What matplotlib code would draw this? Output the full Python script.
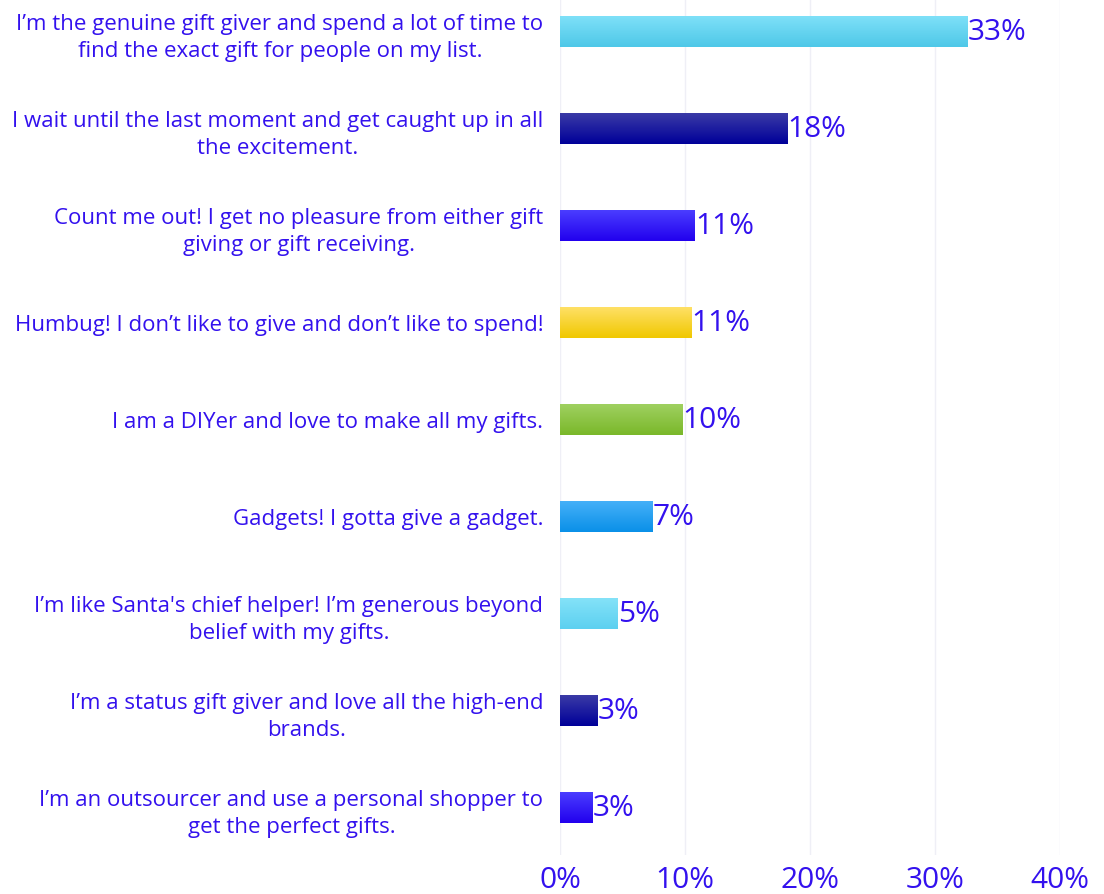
import numpy as np
import matplotlib.pyplot as plt
from matplotlib.colors import LinearSegmentedColormap

plt.rcParams['font.family'] = ['Open Sans', 'DejaVu Sans']

labels = [
    "I’m the genuine gift giver and spend a lot of time to\nfind the exact gift for people on my list.",
    "I wait until the last moment and get caught up in all\nthe excitement.",
    "Count me out! I get no pleasure from either gift\ngiving or gift receiving.",
    "Humbug! I don’t like to give and don’t like to spend!",
    "I am a DIYer and love to make all my gifts.",
    "Gadgets! I gotta give a gadget.",
    "I’m like Santa's chief helper! I’m generous beyond\nbelief with my gifts.",
    "I’m a status gift giver and love all the high-end\nbrands.",
    "I’m an outsourcer and use a personal shopper to\nget the perfect gifts.",
]
values = [32.6, 18.2, 10.8, 10.5, 9.8, 7.4, 4.6, 3.0, 2.6]
value_text = ["33%", "18%", "11%", "11%", "10%", "7%", "5%", "3%", "3%"]
# top colour, bottom colour of each bar gradient
bar_top = ["#7ee0f8", "#3a3aa6", "#4a3dff", "#ffe066", "#9fd060", "#45b0f8", "#84e2f8", "#3a3aa6", "#4a3dff"]
bar_bot = ["#4ec8e8", "#000099", "#2200ee", "#f0c800", "#7ab82a", "#0a90e8", "#5cd0f0", "#000099", "#2200ee"]
xticks = [0, 10, 20, 30, 40]

text_color = "#3311ee"

fig = plt.figure(figsize=(11.04, 8.94), dpi=100)
ax = fig.add_axes([560 / 1104, 39 / 894, 500 / 1104, 855 / 894])

y = np.arange(len(values))
h = 0.31
bars = ax.barh(y, values, height=h, color="none", edgecolor="none")
grad = np.linspace(0, 1, 64).reshape(-1, 1)
for b, c1, c2 in zip(bars, bar_top, bar_bot):
    x0, y0 = b.get_x(), b.get_y()
    w, hh = b.get_width(), b.get_height()
    cmap = LinearSegmentedColormap.from_list("g", [c1, c2])
    ax.imshow(grad, cmap=cmap, aspect="auto", extent=[x0, x0 + w, y0 + hh, y0],
              zorder=2, interpolation="bicubic")

for yi, v, t in zip(y, values, value_text):
    ax.text(v + 0.02, yi, t, va="center", ha="left", fontsize=21.5, color=text_color, zorder=3)

ax.set_xlim(0, 40)
ax.set_ylim(8.48, -0.33)
ax.set_xticks(xticks)
ax.set_xticklabels([f"{t}%" for t in xticks], fontsize=21.5, color=text_color)
ax.set_yticks(y)
ax.set_yticklabels(labels, fontsize=16, color=text_color, multialignment="center",
                   linespacing=1.4)
ax.tick_params(axis="both", length=0)
ax.tick_params(axis="y", pad=12)
ax.tick_params(axis="x", pad=8)
ax.grid(axis="x", color="#efeff6", linewidth=1, zorder=0)
ax.set_axisbelow(True)
for s in ax.spines.values():
    s.set_visible(False)

fig.savefig("out.png", dpi=100)
